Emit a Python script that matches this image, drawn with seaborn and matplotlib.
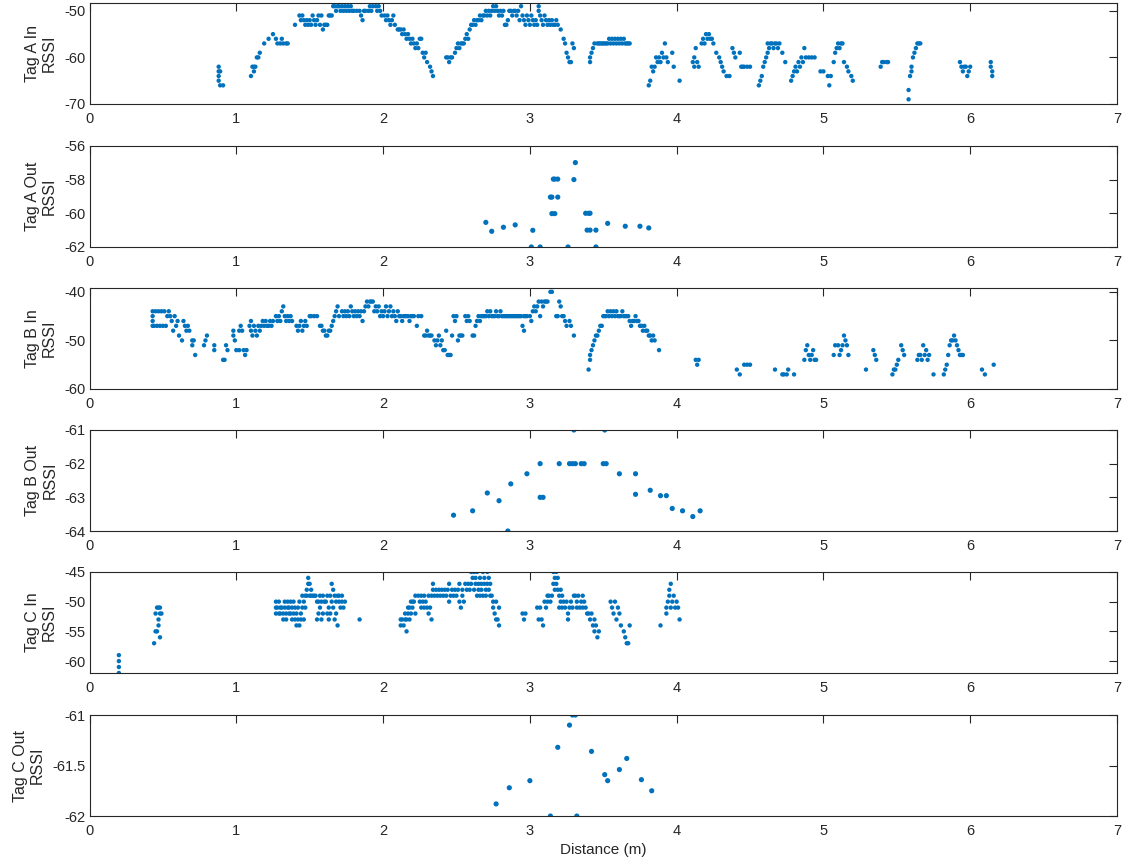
import matplotlib
matplotlib.use('Agg')
import matplotlib.pyplot as plt
import seaborn as sns
import pandas as pd

sns.set_style('white')
plt.rcParams['font.family'] = ['Liberation Sans', 'DejaVu Sans']
plt.rcParams['axes.unicode_minus'] = False

dot_color = '#0072BD'
ink = '#262626'

# (distance m, RSSI) pairs
tag_a_in = [
    (0.88, -62), (0.88, -63), (0.88, -64), (0.88, -65), (0.89, -63), (0.89, -66), (0.91, -66),
    (1.10, -64), (1.11, -62), (1.12, -62), (1.12, -63), (1.13, -62), (1.14, -60), (1.15, -60), (1.16, -59),
    (1.19, -57), (1.22, -56), (1.25, -55), (1.27, -56), (1.28, -57), (1.30, -57), (1.31, -56), (1.32, -57),
    (1.34, -57), (1.35, -57), (1.40, -53), (1.43, -51), (1.44, -52), (1.45, -51), (1.46, -52), (1.47, -53),
    (1.48, -52), (1.49, -53), (1.50, -52), (1.51, -53), (1.52, -51), (1.53, -52), (1.54, -53), (1.55, -52),
    (1.56, -51), (1.57, -53), (1.58, -51), (1.59, -54), (1.60, -53), (1.61, -53), (1.62, -53), (1.63, -51),
    (1.64, -51), (1.65, -51), (1.66, -49), (1.67, -49), (1.68, -50), (1.69, -49), (1.70, -49), (1.71, -50),
    (1.72, -49), (1.73, -50), (1.74, -49), (1.75, -50), (1.76, -49), (1.77, -50), (1.78, -49), (1.79, -50),
    (1.80, -50), (1.82, -50), (1.84, -50), (1.85, -51), (1.86, -52), (1.87, -50), (1.88, -50), (1.90, -50),
    (1.91, -49), (1.92, -50), (1.93, -49), (1.94, -48), (1.95, -49), (1.96, -50), (1.97, -49), (1.98, -50),
    (1.99, -51), (2.01, -51), (2.02, -52), (2.03, -51), (2.04, -52), (2.05, -53), (2.06, -52), (2.07, -51),
    (2.08, -53), (2.10, -54), (2.11, -54), (2.12, -54), (2.13, -55), (2.14, -54), (2.15, -55), (2.16, -56),
    (2.17, -55), (2.18, -56), (2.19, -57), (2.20, -56), (2.21, -57), (2.22, -58), (2.23, -57), (2.24, -58),
    (2.25, -56), (2.26, -56), (2.27, -59), (2.28, -60), (2.29, -59), (2.30, -61), (2.32, -62), (2.33, -63),
    (2.34, -64),
    (2.43, -60), (2.44, -60), (2.45, -61), (2.46, -60), (2.47, -60), (2.49, -59), (2.50, -58), (2.51, -57),
    (2.52, -58), (2.53, -57), (2.54, -57), (2.55, -57), (2.56, -56), (2.57, -55), (2.58, -56), (2.59, -54),
    (2.60, -53), (2.61, -53), (2.62, -52), (2.63, -53), (2.64, -52), (2.65, -52), (2.66, -51), (2.67, -52),
    (2.68, -51), (2.69, -51), (2.70, -50), (2.71, -51), (2.72, -50), (2.73, -51), (2.74, -50), (2.75, -49),
    (2.76, -50), (2.77, -49), (2.78, -50), (2.79, -51), (2.80, -50), (2.81, -51), (2.82, -50), (2.83, -53),
    (2.84, -53), (2.85, -52), (2.86, -50), (2.87, -50), (2.88, -51), (2.89, -50), (2.90, -50), (2.91, -51),
    (2.92, -50), (2.93, -52), (2.94, -49), (2.95, -51), (2.96, -52), (2.97, -53), (2.98, -51), (2.99, -52),
    (3.00, -53), (3.01, -51), (3.02, -52), (3.03, -53), (3.04, -52), (3.05, -53), (3.06, -49), (3.06, -50),
    (3.07, -51), (3.08, -52), (3.09, -53), (3.10, -51), (3.11, -52), (3.12, -53), (3.13, -52), (3.14, -53),
    (3.15, -52), (3.16, -53), (3.17, -53), (3.18, -52), (3.19, -53), (3.21, -54), (3.23, -56), (3.24, -57),
    (3.25, -59), (3.26, -60), (3.27, -61), (3.28, -61), (3.29, -57), (3.30, -58),
    (3.41, -61), (3.41, -60), (3.42, -59), (3.43, -58), (3.44, -57), (3.46, -57), (3.47, -57), (3.48, -57),
    (3.49, -57), (3.50, -57), (3.51, -57), (3.52, -57), (3.53, -57), (3.54, -56), (3.55, -57), (3.56, -56),
    (3.57, -57), (3.58, -56), (3.59, -57), (3.60, -56), (3.61, -57), (3.62, -56), (3.63, -57), (3.64, -56),
    (3.65, -57), (3.66, -57), (3.67, -57), (3.68, -57),
    (3.81, -66), (3.82, -65), (3.83, -62), (3.84, -63), (3.85, -62), (3.86, -60), (3.87, -61), (3.88, -60),
    (3.89, -61), (3.90, -59), (3.91, -60), (3.92, -57), (3.93, -60), (3.94, -61), (3.97, -59), (3.98, -62),
    (4.02, -65), (4.11, -61), (4.12, -62), (4.12, -60), (4.13, -58), (4.14, -61), (4.15, -62), (4.17, -57),
    (4.18, -56), (4.19, -57), (4.20, -55), (4.21, -56), (4.22, -55), (4.23, -56), (4.24, -56), (4.25, -57),
    (4.27, -59), (4.29, -60), (4.30, -61), (4.31, -62), (4.32, -63), (4.34, -64), (4.36, -64), (4.38, -58),
    (4.39, -59), (4.40, -60), (4.43, -59), (4.44, -62), (4.45, -62), (4.46, -62), (4.48, -62), (4.50, -62),
    (4.56, -66), (4.57, -65), (4.58, -64), (4.59, -62), (4.60, -61), (4.61, -60), (4.62, -59), (4.62, -57),
    (4.63, -58), (4.64, -57), (4.65, -57), (4.66, -58), (4.67, -57), (4.68, -57), (4.69, -58), (4.70, -57),
    (4.72, -59), (4.74, -61), (4.78, -65), (4.79, -64), (4.80, -63), (4.81, -62), (4.82, -63), (4.83, -61),
    (4.84, -62), (4.85, -60), (4.86, -61), (4.87, -58), (4.88, -60), (4.90, -60), (4.92, -60), (4.94, -60),
    (4.98, -63), (5.00, -63), (5.03, -64), (5.04, -66), (5.05, -64), (5.07, -61), (5.08, -59), (5.09, -58),
    (5.10, -57), (5.11, -58), (5.12, -57), (5.13, -57), (5.14, -61), (5.16, -62), (5.17, -63), (5.19, -64),
    (5.20, -65), (5.39, -62), (5.40, -61), (5.41, -61), (5.43, -61), (5.44, -61),
    (5.58, -67), (5.58, -69), (5.59, -64), (5.60, -63), (5.60, -62), (5.61, -60), (5.62, -59), (5.63, -58),
    (5.64, -57), (5.65, -57), (5.66, -57),
    (5.93, -61), (5.94, -62), (5.95, -63), (5.96, -62), (5.97, -62), (5.98, -64), (5.99, -63), (6.00, -62),
    (6.14, -61), (6.14, -62), (6.15, -63), (6.15, -64),
]

tag_a_out = [
    (2.70, -60.54), (2.74, -61.07), (2.82, -60.83), (2.90, -60.69), (3.02, -61.01), (3.01, -62.0),
    (3.07, -62.0), (3.14, -59.04), (3.15, -59.04), (3.19, -59.04), (3.16, -57.97), (3.17, -57.97),
    (3.19, -57.97), (3.15, -60.02), (3.17, -60.02), (3.26, -62.0), (3.30, -58.0), (3.31, -56.99),
    (3.38, -60.0), (3.40, -60.0), (3.41, -60.0), (3.39, -61.0), (3.41, -61.0), (3.45, -61.0),
    (3.45, -62.0), (3.53, -60.6), (3.65, -60.77), (3.75, -60.77), (3.81, -60.87),
]

tag_b_in = [
    (0.43, -44), (0.43, -45), (0.43, -46), (0.43, -47), (0.44, -47), (0.45, -44), (0.46, -47), (0.47, -44),
    (0.48, -47), (0.49, -44), (0.50, -47), (0.51, -44), (0.52, -47), (0.53, -45), (0.54, -44), (0.55, -45),
    (0.56, -46), (0.57, -48), (0.58, -45), (0.59, -47), (0.60, -46), (0.61, -49), (0.63, -50), (0.64, -46),
    (0.65, -47), (0.66, -48), (0.67, -47), (0.68, -48), (0.70, -50), (0.70, -51), (0.71, -50), (0.72, -53),
    (0.78, -51), (0.79, -50), (0.80, -49), (0.85, -51), (0.85, -52), (0.91, -54), (0.92, -54), (0.93, -51),
    (0.94, -52), (0.98, -48), (0.98, -49), (0.99, -50), (1.00, -52), (1.02, -52), (1.02, -48), (1.03, -47),
    (1.04, -48), (1.05, -52), (1.06, -53), (1.07, -52), (1.09, -47), (1.10, -46), (1.10, -48), (1.11, -49),
    (1.12, -47), (1.13, -48), (1.14, -49), (1.15, -47), (1.16, -48), (1.17, -47), (1.18, -46), (1.19, -47),
    (1.20, -46), (1.21, -47), (1.22, -47), (1.23, -46), (1.24, -47), (1.25, -46), (1.27, -45), (1.28, -46),
    (1.29, -45), (1.30, -46), (1.31, -44), (1.32, -43), (1.33, -45), (1.34, -46), (1.35, -45), (1.36, -46),
    (1.37, -45), (1.38, -46), (1.41, -47), (1.42, -48), (1.43, -47), (1.44, -46), (1.45, -48), (1.46, -47),
    (1.47, -46), (1.48, -47), (1.50, -45), (1.51, -45), (1.53, -45), (1.55, -45), (1.57, -47), (1.58, -47),
    (1.59, -48), (1.60, -48), (1.61, -49), (1.62, -49), (1.63, -48), (1.64, -48), (1.65, -47), (1.66, -46),
    (1.67, -45), (1.68, -44), (1.69, -43), (1.70, -45), (1.72, -44), (1.73, -45), (1.74, -44), (1.75, -45),
    (1.76, -44), (1.77, -45), (1.78, -43), (1.79, -44), (1.80, -45), (1.81, -44), (1.82, -45), (1.83, -44),
    (1.84, -45), (1.85, -44), (1.86, -46), (1.87, -44), (1.88, -43), (1.89, -42), (1.90, -43), (1.91, -42),
    (1.92, -42), (1.93, -42), (1.94, -44), (1.95, -43), (1.96, -44), (1.97, -43), (1.98, -45), (1.99, -44),
    (2.00, -45), (2.01, -44), (2.02, -43), (2.03, -45), (2.04, -44), (2.05, -43), (2.06, -45), (2.07, -44),
    (2.08, -45), (2.09, -46), (2.10, -44), (2.11, -45), (2.12, -45), (2.13, -46), (2.14, -45), (2.15, -45),
    (2.16, -45), (2.17, -45), (2.18, -46), (2.19, -45), (2.20, -45), (2.21, -45), (2.23, -47), (2.24, -45),
    (2.26, -45), (2.28, -49), (2.29, -49), (2.30, -48), (2.31, -49), (2.32, -49), (2.33, -49), (2.35, -50),
    (2.36, -51), (2.37, -50), (2.38, -49), (2.39, -51), (2.40, -50), (2.41, -52), (2.42, -52), (2.43, -48),
    (2.44, -53), (2.45, -53), (2.46, -53), (2.47, -49), (2.48, -45), (2.49, -46), (2.50, -45), (2.51, -50),
    (2.52, -49), (2.53, -49), (2.54, -49), (2.56, -45), (2.57, -46), (2.58, -45), (2.59, -46), (2.61, -49),
    (2.62, -49), (2.63, -47), (2.64, -46), (2.65, -45), (2.66, -46), (2.67, -45), (2.68, -45), (2.69, -45),
    (2.70, -45), (2.71, -44), (2.72, -45), (2.73, -44), (2.74, -45), (2.75, -45), (2.76, -45), (2.77, -44),
    (2.78, -45), (2.79, -45), (2.80, -44), (2.81, -45), (2.82, -45), (2.83, -45), (2.84, -45), (2.85, -45),
    (2.86, -45), (2.87, -45), (2.88, -45), (2.89, -45), (2.90, -45), (2.91, -45), (2.92, -45), (2.93, -45),
    (2.94, -45), (2.95, -47), (2.96, -48), (2.96, -45), (2.97, -45), (2.98, -45), (3.00, -45), (3.01, -46),
    (3.02, -44), (3.03, -43), (3.04, -44), (3.05, -43), (3.06, -42), (3.07, -45), (3.08, -42), (3.09, -43),
    (3.10, -42), (3.11, -42), (3.12, -42), (3.14, -40), (3.15, -40), (3.16, -39), (3.18, -45), (3.19, -45),
    (3.20, -42), (3.21, -43), (3.22, -45), (3.23, -45), (3.24, -46), (3.25, -47), (3.27, -46), (3.28, -47),
    (3.30, -49),
    (3.40, -56), (3.41, -54), (3.41, -53), (3.42, -52), (3.43, -51), (3.44, -50), (3.45, -49), (3.46, -49),
    (3.47, -48), (3.48, -47), (3.49, -47), (3.50, -45), (3.51, -45), (3.52, -45), (3.53, -44), (3.54, -45),
    (3.55, -44), (3.56, -45), (3.57, -44), (3.58, -45), (3.59, -44), (3.60, -45), (3.61, -45), (3.62, -45),
    (3.63, -44), (3.64, -45), (3.65, -45), (3.66, -45), (3.67, -45), (3.68, -46), (3.69, -47), (3.70, -46),
    (3.71, -46), (3.72, -45), (3.73, -46), (3.74, -46), (3.75, -47), (3.76, -47), (3.77, -48), (3.78, -47),
    (3.79, -48), (3.80, -48), (3.81, -49), (3.82, -49), (3.83, -50), (3.84, -49), (3.85, -50), (3.88, -52),
    (4.13, -54), (4.14, -55), (4.15, -54), (4.41, -56), (4.43, -57), (4.46, -55), (4.48, -55), (4.50, -55),
    (4.67, -56), (4.72, -57), (4.73, -57), (4.75, -57), (4.76, -56), (4.80, -57),
    (4.87, -54), (4.88, -52), (4.89, -51), (4.90, -53), (4.91, -54), (4.92, -53), (4.93, -52), (4.94, -54),
    (4.95, -54), (5.07, -53), (5.08, -51), (5.10, -51), (5.11, -53), (5.12, -52), (5.13, -51), (5.14, -49),
    (5.15, -50), (5.16, -51), (5.17, -53), (5.29, -56), (5.34, -52), (5.35, -53), (5.36, -54),
    (5.47, -57), (5.48, -56), (5.49, -56), (5.50, -55), (5.51, -54), (5.53, -51), (5.54, -52), (5.55, -53),
    (5.64, -54), (5.65, -53), (5.66, -53), (5.67, -54), (5.68, -51), (5.69, -53), (5.70, -52), (5.71, -54),
    (5.72, -53), (5.75, -57), (5.82, -57), (5.83, -56), (5.84, -55), (5.85, -53), (5.86, -51), (5.87, -50),
    (5.88, -50), (5.89, -49), (5.90, -50), (5.91, -51), (5.92, -52), (5.93, -53), (5.94, -53), (5.95, -53),
    (6.08, -56), (6.10, -57), (6.16, -55),
]

tag_b_out = [
    (2.48, -63.53), (2.61, -63.40), (2.71, -62.87), (2.79, -63.10), (2.85, -64.0), (2.87, -62.60),
    (2.98, -62.30), (3.07, -62.0), (3.07, -63.0), (3.09, -63.0), (3.20, -62.0), (3.27, -62.0),
    (3.29, -62.0), (3.31, -62.0), (3.30, -61.0), (3.35, -62.0), (3.37, -62.0), (3.50, -62.0),
    (3.52, -62.0), (3.51, -61.0), (3.61, -62.30), (3.72, -62.30), (3.72, -62.91), (3.82, -62.79),
    (3.89, -62.95), (3.93, -62.95), (3.97, -63.33), (4.04, -63.40), (4.11, -63.57), (4.16, -63.40),
]

tag_c_in = [
    (0.20, -59), (0.20, -60), (0.20, -61), (0.20, -62),
    (0.44, -57), (0.45, -55), (0.45, -52), (0.46, -51), (0.46, -55), (0.47, -53), (0.47, -54), (0.47, -51),
    (0.48, -56), (0.48, -52), (0.48, -51), (0.49, -52),
    (1.27, -50), (1.27, -51), (1.27, -52), (1.28, -51), (1.29, -50), (1.29, -52), (1.30, -51), (1.30, -52),
    (1.31, -51), (1.32, -53), (1.32, -52), (1.33, -51), (1.33, -50), (1.34, -52), (1.34, -53), (1.35, -51),
    (1.35, -50), (1.36, -52), (1.36, -51), (1.37, -50), (1.37, -52), (1.38, -51), (1.38, -53), (1.39, -50),
    (1.39, -52), (1.40, -51), (1.40, -53), (1.41, -52), (1.41, -54), (1.42, -53), (1.42, -51), (1.43, -54),
    (1.43, -50), (1.44, -52), (1.44, -53), (1.45, -49), (1.45, -51), (1.46, -50), (1.46, -53), (1.47, -49),
    (1.47, -51), (1.48, -48), (1.48, -49), (1.49, -47), (1.49, -46), (1.50, -49), (1.50, -47), (1.51, -49),
    (1.51, -48), (1.52, -49), (1.53, -49), (1.54, -49), (1.55, -50), (1.55, -53), (1.56, -50), (1.56, -52),
    (1.57, -49), (1.57, -51), (1.58, -50), (1.58, -53), (1.59, -49), (1.59, -52), (1.60, -50), (1.61, -50),
    (1.62, -52), (1.62, -49), (1.63, -51), (1.63, -53), (1.64, -49), (1.64, -52), (1.65, -50), (1.65, -47),
    (1.66, -48), (1.66, -51), (1.67, -53), (1.67, -49), (1.68, -50), (1.68, -52), (1.69, -54), (1.69, -49),
    (1.70, -50), (1.70, -49), (1.71, -51), (1.72, -50), (1.72, -49), (1.73, -51), (1.74, -50),
    (1.84, -53),
    (2.12, -53), (2.12, -54), (2.13, -53), (2.14, -54), (2.15, -53), (2.15, -52), (2.16, -55), (2.16, -53),
    (2.17, -52), (2.17, -51), (2.18, -53), (2.18, -51), (2.19, -50), (2.19, -52), (2.20, -51), (2.20, -50),
    (2.21, -50), (2.22, -49), (2.22, -52), (2.24, -49), (2.25, -50), (2.26, -49), (2.26, -51), (2.27, -50),
    (2.28, -49), (2.28, -51), (2.29, -50), (2.30, -51), (2.31, -49), (2.31, -52), (2.32, -51), (2.33, -49),
    (2.33, -53), (2.34, -47), (2.34, -48), (2.35, -49), (2.36, -48), (2.37, -49), (2.38, -48), (2.39, -49),
    (2.40, -48), (2.41, -49), (2.42, -48), (2.43, -49), (2.44, -48), (2.45, -50), (2.45, -47), (2.46, -49),
    (2.47, -48), (2.48, -49), (2.49, -48), (2.50, -49), (2.51, -48), (2.52, -47), (2.52, -50), (2.53, -51),
    (2.54, -48), (2.54, -49), (2.55, -50), (2.56, -47), (2.57, -48), (2.58, -47), (2.59, -48), (2.60, -45),
    (2.60, -47), (2.61, -46), (2.62, -45), (2.62, -48), (2.63, -46), (2.63, -47), (2.64, -49), (2.64, -45),
    (2.65, -47), (2.65, -48), (2.66, -46), (2.66, -49), (2.67, -47), (2.67, -48), (2.68, -45), (2.68, -49),
    (2.69, -46), (2.69, -47), (2.70, -48), (2.70, -49), (2.71, -45), (2.71, -47), (2.72, -46), (2.72, -48),
    (2.73, -47), (2.73, -49), (2.74, -49), (2.75, -50), (2.75, -51), (2.76, -52), (2.77, -53), (2.77, -50),
    (2.78, -53), (2.79, -54), (2.79, -51),
    (2.95, -52), (2.96, -53), (2.97, -52),
    (3.05, -51), (3.06, -53), (3.07, -51), (3.08, -53), (3.09, -54), (3.10, -50), (3.11, -51), (3.12, -50),
    (3.12, -49), (3.13, -49), (3.14, -50), (3.15, -49), (3.16, -47), (3.16, -45), (3.17, -48), (3.17, -46),
    (3.18, -45), (3.18, -47), (3.19, -48), (3.19, -46), (3.20, -49), (3.20, -51), (3.21, -50), (3.21, -48),
    (3.22, -51), (3.22, -49), (3.23, -50), (3.24, -51), (3.25, -50), (3.26, -52), (3.26, -53), (3.27, -51),
    (3.28, -50), (3.29, -51), (3.30, -49), (3.31, -49), (3.32, -50), (3.32, -51), (3.33, -49), (3.34, -51),
    (3.35, -50), (3.36, -49), (3.36, -51), (3.37, -50), (3.38, -51), (3.39, -52), (3.40, -52), (3.41, -53),
    (3.42, -52), (3.43, -54), (3.44, -53), (3.44, -55), (3.45, -54), (3.46, -56), (3.47, -55),
    (3.55, -50), (3.56, -51), (3.57, -52), (3.58, -50), (3.59, -53), (3.60, -51), (3.61, -52), (3.62, -54),
    (3.64, -55), (3.65, -56), (3.66, -57), (3.67, -57), (3.68, -54),
    (3.89, -54), (3.93, -52), (3.93, -51), (3.94, -50), (3.95, -49), (3.95, -48), (3.96, -51), (3.96, -47),
    (3.97, -50), (3.98, -49), (3.99, -51), (4.00, -50), (4.01, -51), (4.02, -53),
]

tag_c_out = [
    (2.77, -61.88), (2.86, -61.72), (3.00, -61.65), (3.14, -62.0), (3.19, -61.32), (3.27, -61.10),
    (3.29, -61.0), (3.31, -61.0), (3.32, -62.0), (3.42, -61.36), (3.51, -61.59), (3.53, -61.65),
    (3.61, -61.54), (3.66, -61.43), (3.76, -61.64), (3.83, -61.75),
]

panel_names = ['Tag A In', 'Tag A Out', 'Tag B In', 'Tag B Out', 'Tag C In', 'Tag C Out']
panel_data = [tag_a_in, tag_a_out, tag_b_in, tag_b_out, tag_c_in, tag_c_out]
y_limits = [(-70, -48.3), (-62, -56), (-60, -39.2), (-64, -61), (-62, -45), (-62, -61)]
y_ticks = [[-70, -60, -50], [-62, -60, -58, -56], [-60, -50, -40], [-64, -63, -62, -61],
           [-60, -55, -50, -45], [-62, -61.5, -61]]
y_tick_labels = [['-70', '-60', '-50'], ['-62', '-60', '-58', '-56'], ['-60', '-50', '-40'],
                 ['-64', '-63', '-62', '-61'], ['-60', '-55', '-50', '-45'], ['-62', '-61.5', '-61']]
x_ticks = [0, 1, 2, 3, 4, 5, 6, 7]

fig = plt.figure(figsize=(11.26, 8.65), dpi=100)
bottoms = [0.8798, 0.7145, 0.5503, 0.3861, 0.2220, 0.0566]

for i, name in enumerate(panel_names):
    ax = fig.add_axes([0.0795, bottoms[i], 0.9125, 0.1168])
    df = pd.DataFrame(panel_data[i], columns=['distance', 'rssi'])
    size = 10 if 'In' in name else 14
    sns.scatterplot(data=df, x='distance', y='rssi', ax=ax, color=dot_color,
                    s=size, linewidth=0, edgecolor='none')
    ax.set_xlim(0, 7)
    ax.set_ylim(*y_limits[i])
    ax.set_xticks(x_ticks)
    ax.set_xticklabels([str(t) for t in x_ticks])
    ax.set_yticks(y_ticks[i])
    ax.set_yticklabels(y_tick_labels[i])
    ax.tick_params(direction='in', top=True, right=True, length=6, width=0.8,
                   colors=ink, labelsize=10.5)
    ax.tick_params(axis='x', pad=6)
    ax.tick_params(axis='y', pad=3)
    for sp in ax.spines.values():
        sp.set_color(ink)
        sp.set_linewidth(0.8)
    ax.set_ylabel(name + '\nRSSI', fontsize=11.5, color=ink, linespacing=1.15, labelpad=5)
    if i == len(panel_names) - 1:
        ax.set_xlabel('Distance (m)', fontsize=11, color=ink, labelpad=3)
    else:
        ax.set_xlabel('')

plt.savefig('out.png', dpi=100)
plt.close()
